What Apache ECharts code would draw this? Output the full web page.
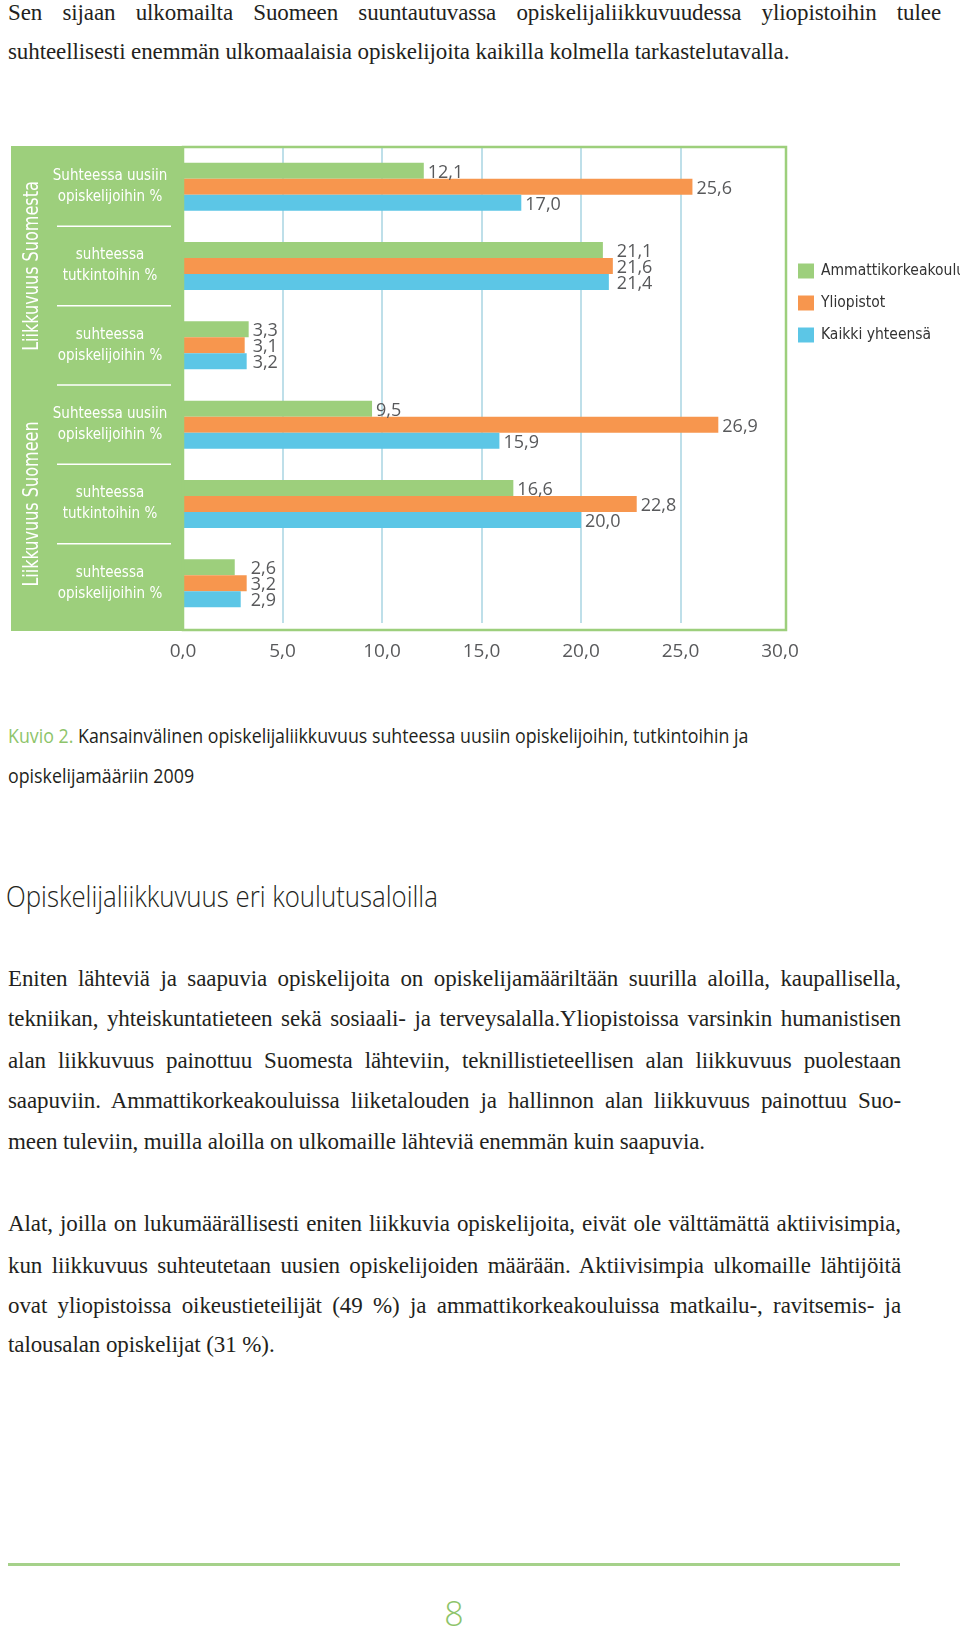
<!DOCTYPE html>
<html>
<head>
<meta charset="utf-8">
<script src="https://cdn.jsdelivr.net/npm/echarts/dist/echarts.min.js"></script>
<style>
  html, body { margin:0; padding:0; background:#fff; }
  body { width:960px; height:1634px; position:relative; overflow:hidden; }
  #c { position:absolute; left:0; top:0; width:960px; height:700px; }
  .ln { position:absolute; white-space:nowrap; color:#231f20; }
  .serif { font-family:'Liberation Serif', 'DejaVu Serif', serif; font-size:23px; line-height:28px; letter-spacing:-0.1px; }
  .j { text-align:justify; text-align-last:justify; }
  .sans { font-family:'Open Sans', sans-serif; }
  .cond { transform-origin:0 50%; transform:scaleX(0.89); }
</style>
</head>
<body>
<div class="ln serif j" style="left:8px; top:-1px; width:933px;">Sen sijaan ulkomailta Suomeen suuntautuvassa opiskelijaliikkuvuudessa yliopistoihin tulee</div>
<div class="ln serif" style="left:8px; top:38px;">suhteellisesti enemmän ulkomaalaisia opiskelijoita kaikilla kolmella tarkastelutavalla.</div>

<div id="c"></div>

<div class="ln sans cond" style="left:8px; top:724px; font-size:20px; line-height:24px;"><span style="color:#8dc46a">Kuvio 2.</span> Kansainvälinen opiskelijaliikkuvuus suhteessa uusiin opiskelijoihin, tutkintoihin ja</div>
<div class="ln sans cond" style="left:8px; top:764px; font-size:20px; line-height:24px;">opiskelijamääriin 2009</div>

<div class="ln sans cond" style="left:6px; top:878px; font-size:30px; line-height:36px; font-weight:300; transform:scaleX(0.86);">Opiskelijaliikkuvuus eri koulutusaloilla</div>

<div class="ln serif j" style="left:8px; top:965px; width:893px;">Eniten lähteviä ja saapuvia opiskelijoita on opiskelijamääriltään suurilla aloilla, kaupallisella,</div>
<div class="ln serif j" style="left:8px; top:1005px; width:893px;">tekniikan, yhteiskuntatieteen sekä sosiaali- ja terveysalalla.Yliopistoissa varsinkin humanistisen</div>
<div class="ln serif j" style="left:8px; top:1047px; width:893px;">alan liikkuvuus painottuu Suomesta lähteviin, teknillistieteellisen alan liikkuvuus puolestaan</div>
<div class="ln serif j" style="left:8px; top:1087px; width:893px;">saapuviin. Ammattikorkeakouluissa liiketalouden ja hallinnon alan liikkuvuus painottuu Suo-</div>
<div class="ln serif" style="left:8px; top:1128px;">meen tuleviin, muilla aloilla on ulkomaille lähteviä enemmän kuin saapuvia.</div>

<div class="ln serif j" style="left:8px; top:1210px; width:893px;">Alat, joilla on lukumäärällisesti eniten liikkuvia opiskelijoita, eivät ole välttämättä aktiivisimpia,</div>
<div class="ln serif j" style="left:8px; top:1252px; width:893px;">kun liikkuvuus suhteutetaan uusien opiskelijoiden määrään. Aktiivisimpia ulkomaille lähtijöitä</div>
<div class="ln serif j" style="left:8px; top:1292px; width:893px;">ovat yliopistoissa oikeustieteilijät (49 %) ja ammattikorkeakouluissa matkailu-, ravitsemis- ja</div>
<div class="ln serif" style="left:8px; top:1331px;">talousalan opiskelijat (31 %).</div>

<div style="position:absolute; left:8px; top:1563px; width:892px; height:3px; background:#a5d18a;"></div>
<div class="ln sans" style="left:434px; top:1594px; width:40px; text-align:center; font-size:34px; line-height:38px; color:#8dc46a; font-weight:300;">8</div>

<script>
// ---- data ----
const categories = [
  'Suhteessa uusiin\nopiskelijoihin %',
  'suhteessa\ntutkintoihin %',
  'suhteessa\nopiskelijoihin %',
  'Suhteessa uusiin\nopiskelijoihin %',
  'suhteessa\ntutkintoihin %',
  'suhteessa\nopiskelijoihin %'
];
const groupNames = ['Liikkuvuus Suomesta', 'Liikkuvuus Suomeen'];
const groupRanges = [[0, 2], [3, 5]];
const seriesNames = ['Ammattikorkeakoulut', 'Yliopistot', 'Kaikki yhteensä'];
const amk = [12.1, 21.1, 3.3, 9.5, 16.6, 2.6];
const yliopistot = [25.6, 21.6, 3.1, 26.9, 22.8, 3.2];
const kaikki = [17.0, 21.4, 3.2, 15.9, 20.0, 2.9];
const xTicks = [0, 5, 10, 15, 20, 25, 30];

// ---- style ----
const GREEN = '#9dcf7c', ORANGE = '#f7964e', BLUE = '#5cc6e6';
const GRIDC = '#a9d5e2';
const NARROW = "'Liberation Sans Narrow', 'DejaVu Sans Condensed', 'Open Sans', sans-serif";
const fmt = v => v.toFixed(1).replace('.', ',');

const chart = echarts.init(document.getElementById('c'));
const allSeries = [amk, yliopistot, kaikki];
const colors = [GREEN, ORANGE, BLUE];

function buildSeries(offsets) {
  return allSeries.map((arr, s) => ({
    name: seriesNames[s],
    type: 'bar',
    barWidth: 16,
    barGap: '0%',
    itemStyle: { color: colors[s] },
    data: arr.map((v, i) => ({ value: v, label: { offset: [offsets ? offsets[s][i] : 0, 2] } })),
    label: {
      show: true, position: 'right', distance: 4,
      formatter: p => fmt(p.value),
      fontFamily: 'Open Sans', fontSize: 18, color: '#58595b'
    }
  }));
}

const splitColors = xTicks.map(t => (t === xTicks[0] || t === xTicks[xTicks.length - 1]) ? 'rgba(0,0,0,0)' : GRIDC);

chart.setOption({
  animation: false,
  grid: { left: 183, top: 147, width: 597, height: 476 },
  xAxis: {
    type: 'value', min: xTicks[0], max: xTicks[xTicks.length - 1], interval: 5,
    axisLine: { show: false }, axisTick: { show: false },
    splitLine: { show: true, lineStyle: { color: splitColors, width: 1.5 } },
    axisLabel: { formatter: v => fmt(v), fontFamily: 'Open Sans', fontSize: 19, color: '#58595b', margin: 19 }
  },
  yAxis: {
    type: 'category', inverse: true, data: categories,
    axisLine: { show: false }, axisTick: { show: false },
    axisLabel: { align: 'center', margin: 73, color: '#ffffff', fontFamily: NARROW, fontSize: 15, lineHeight: 21 }
  },
  legend: {
    orient: 'vertical', left: 793, top: 258, icon: 'rect',
    itemWidth: 16, itemHeight: 15, itemGap: 16,
    data: seriesNames,
    textStyle: { fontFamily: NARROW, fontSize: 15.5, color: '#333', padding: [0, 0, 0, 2] }
  },
  series: buildSeries(null)
});

const px = v => chart.convertToPixel({ xAxisIndex: 0 }, v);
const py = i => chart.convertToPixel({ yAxisIndex: 0 }, i);
const offsets = allSeries.map(() => []);
for (let i = 0; i < categories.length; i++) {
  const vals = allSeries.map(a => a[i]);
  const mx = Math.max(...vals), mn = Math.min(...vals);
  allSeries.forEach((a, s) => { offsets[s][i] = (mx - mn < 1) ? px(mx) - px(a[i]) : 0; });
}

const left0 = px(xTicks[0]);
const rightX = px(xTicks[xTicks.length - 1]) + 6;
const topY = 147, bottomY = 630;
const graphics = [];
graphics.push({ type: 'rect', z: -5, shape: { x: 11, y: topY - 1, width: left0 - 11, height: bottomY - topY + 2 }, style: { fill: GREEN } });
graphics.push({ type: 'rect', z: 50, shape: { x: left0, y: topY, width: rightX - left0, height: bottomY - topY }, style: { fill: null, stroke: GREEN, lineWidth: 2.5 } });
for (let i = 0; i < categories.length - 1; i++) {
  const y = (py(i) + py(i + 1)) / 2;
  graphics.push({ type: 'line', z: 5, shape: { x1: 57, y1: y, x2: 171, y2: y }, style: { stroke: '#ffffff', lineWidth: 1.5 } });
}
groupNames.forEach((g, k) => {
  const yc = (py(groupRanges[k][0]) + py(groupRanges[k][1])) / 2;
  graphics.push({ type: 'text', z: 5, x: 33, y: yc, rotation: Math.PI / 2, scaleX: 0.85,
    style: { text: g, fill: '#ffffff', font: "21px " + NARROW, textAlign: 'center', textVerticalAlign: 'middle' } });
});

chart.setOption({ series: buildSeries(offsets), graphic: { elements: graphics } });
</script>
</body>
</html>
